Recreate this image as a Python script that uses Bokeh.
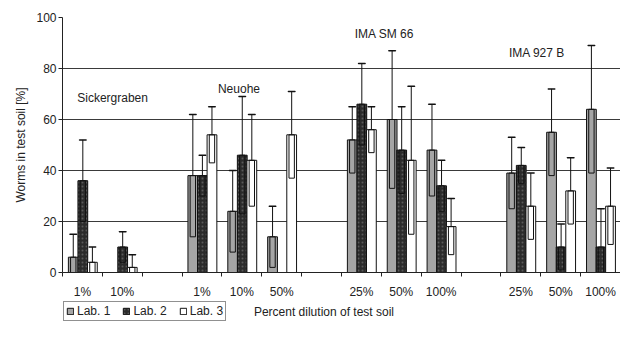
from bokeh.plotting import figure
from bokeh.layouts import column
from bokeh.models import (FixedTicker, Legend, LegendItem, Label, ColumnDataSource,
                          Range1d)
from bokeh.embed import file_html
from bokeh.resources import INLINE

# ---------------- data ----------------
dilutions = ["1%", "10%", "", "1%", "10%", "50%", "", "25%", "50%", "100%", "", "25%", "50%", "100%"]
lab1_mean = [6, None, None, 38, 24, 14, None, 52, 60, 48, None, 39, 55, 64]
lab1_sd = [9, None, None, 24, 16, 12, None, 13, 27, 18, None, 14, 17, 25]
lab2_mean = [36, 10, None, 38, 46, None, None, 66, 48, 34, None, 42, 10, 10]
lab2_sd = [16, 6, None, 8, 23, None, None, 16, 17, 10, None, 7, 9, 15]
lab3_mean = [4, 2, None, 54, 44, 54, None, 56, 44, 18, None, 26, 32, 26]
lab3_sd = [6, 5, None, 11, 18, 17, None, 9, 29, 11, None, 13, 13, 15]
groups = ["Sickergraben", "Neuohe", "IMA SM 66", "IMA 927 B"]
lab_names = ["Lab. 1", "Lab. 2", "Lab. 3"]
y_ticks = [0, 20, 40, 60, 80, 100]
x_title = "Percent dilution of test soil"
y_title = "Worms in test soil [%]"

FONT = "Liberation Sans"
TXT = "#222222"

p = figure(width=620, height=301, output_backend="svg", toolbar_location=None,
           x_range=Range1d(0, len(dilutions)), y_range=Range1d(0, 100),
           min_border_left=62, min_border_right=0, min_border_top=17, min_border_bottom=28)
p.outline_line_color = None

# grid
p.xgrid.grid_line_color = None
p.ygrid.ticker = FixedTicker(ticks=y_ticks)
p.ygrid.grid_line_color = "#3a3a3a"
p.ygrid.grid_line_width = 1

# y axis
p.yaxis.ticker = FixedTicker(ticks=y_ticks)
p.yaxis.axis_label = y_title
p.yaxis.axis_label_text_font = FONT
p.yaxis.axis_label_text_font_style = "normal"
p.yaxis.axis_label_text_font_size = "12px"
p.yaxis.axis_label_text_color = TXT
p.yaxis.axis_label_standoff = 5
p.yaxis.major_label_text_font = FONT
p.yaxis.major_label_text_font_size = "12px"
p.yaxis.major_label_text_color = TXT
p.yaxis.major_label_standoff = 2
p.yaxis.major_tick_in = 0
p.yaxis.major_tick_out = 4
p.yaxis.minor_tick_line_color = None
p.yaxis.axis_line_color = TXT
p.yaxis.major_tick_line_color = TXT

# x axis
centers = [i + 0.5 for i, d in enumerate(dilutions) if d]
p.xaxis.ticker = FixedTicker(ticks=centers, minor_ticks=list(range(len(dilutions) + 1)))
p.xaxis.major_label_overrides = {i + 0.5: d for i, d in enumerate(dilutions) if d}
p.xaxis.major_label_text_font = FONT
p.xaxis.major_label_text_font_size = "12px"
p.xaxis.major_label_text_color = TXT
p.xaxis.major_tick_line_color = None
p.xaxis.major_tick_in = 0
p.xaxis.major_tick_out = 4
p.xaxis.major_label_standoff = 8
p.xaxis.minor_tick_in = 0
p.xaxis.minor_tick_out = 4
p.xaxis.minor_tick_line_color = TXT
p.xaxis.axis_line_color = TXT

# ---------------- bars ----------------
bw = 0.245
offsets = [-0.23, 0.01, 0.25]
fills = ["#a5a5a5", "#2b2b2b", "#ffffff"]
hatch = [dict(), dict(hatch_pattern="dot", hatch_color="#5a5a5a", hatch_scale=4, hatch_weight=1), dict()]
means = [lab1_mean, lab2_mean, lab3_mean]
sds = [lab1_sd, lab2_sd, lab3_sd]

sources = []
for k in range(3):
    xs, tops, lows, highs = [], [], [], []
    for i, (m, s) in enumerate(zip(means[k], sds[k])):
        if m is None:
            continue
        xs.append(i + 0.5 + offsets[k])
        tops.append(m)
        lows.append(max(m - s, 0))
        highs.append(m + s)
    src = ColumnDataSource(dict(x=xs, top=tops, low=lows, high=highs,
                                mid=[(a + b) / 2 for a, b in zip(lows, tops)],
                                h=[b - a for a, b in zip(lows, tops)]))
    sources.append(src)
    p.vbar(x="x", top="top", bottom=0, width=bw, source=src,
           fill_color=fills[k], line_color="#111111", line_width=1, **hatch[k])
    # error box (lower half) and whisker (upper half)
    p.rect(x="x", y="mid", width=bw * 0.55, height="h", source=src,
           fill_color=None, line_color="#111111", line_width=1)
    p.segment(x0="x", y0="top", x1="x", y1="high", source=src,
              line_color="#111111", line_width=1)
    p.rect(x="x", y="high", width=bw * 0.7, height=0.01, source=src,
           fill_color=None, line_color="#111111", line_width=1.5)

# ---------------- group labels ----------------
group_pos = [(0.37, 68.4), (3.9, 72.0), (7.33, 93.4), (11.2, 86.0)]
for name, (gx, gy) in zip(groups, group_pos):
    p.add_layout(Label(x=gx, y=gy, text=name, text_font=FONT, text_font_size="12px",
                       text_color=TXT, text_baseline="middle", text_align="left"))

# ---------------- bottom strip: x title + legend ----------------
q = figure(width=620, height=21, output_backend="svg", toolbar_location=None,
           x_range=p.x_range, y_range=Range1d(0, 21),
           x_axis_location=None, y_axis_location=None,
           min_border_left=62, min_border_right=0, min_border_top=0, min_border_bottom=0)
q.grid.visible = False
q.outline_line_color = None

q.add_layout(Label(x=6.56, y=11, text=x_title, text_font=FONT,
                   text_font_size="12px", text_color=TXT,
                   text_baseline="middle", text_align="center"))

proxies = []
for k in range(3):
    r = q.vbar(x="x", top="top", bottom=0, width=bw, source=sources[k],
               fill_color=fills[k], line_color="#111111", line_width=1, **hatch[k])
    r.visible = False
    proxies.append(r)
legend = Legend(items=[LegendItem(label=lab_names[k], renderers=[proxies[k]]) for k in range(3)],
                orientation="horizontal", location=(1, 1),
                label_text_font=FONT, label_text_font_size="12px", label_text_color=TXT,
                glyph_width=8, glyph_height=8, label_standoff=3, spacing=12,
                padding=2, margin=0, border_line_color=TXT, border_line_width=1,
                label_height=12, background_fill_color="white")
q.add_layout(legend, "center")

layout = column(p, q, spacing=0)
open("out.html", "w").write(file_html(layout, INLINE))
